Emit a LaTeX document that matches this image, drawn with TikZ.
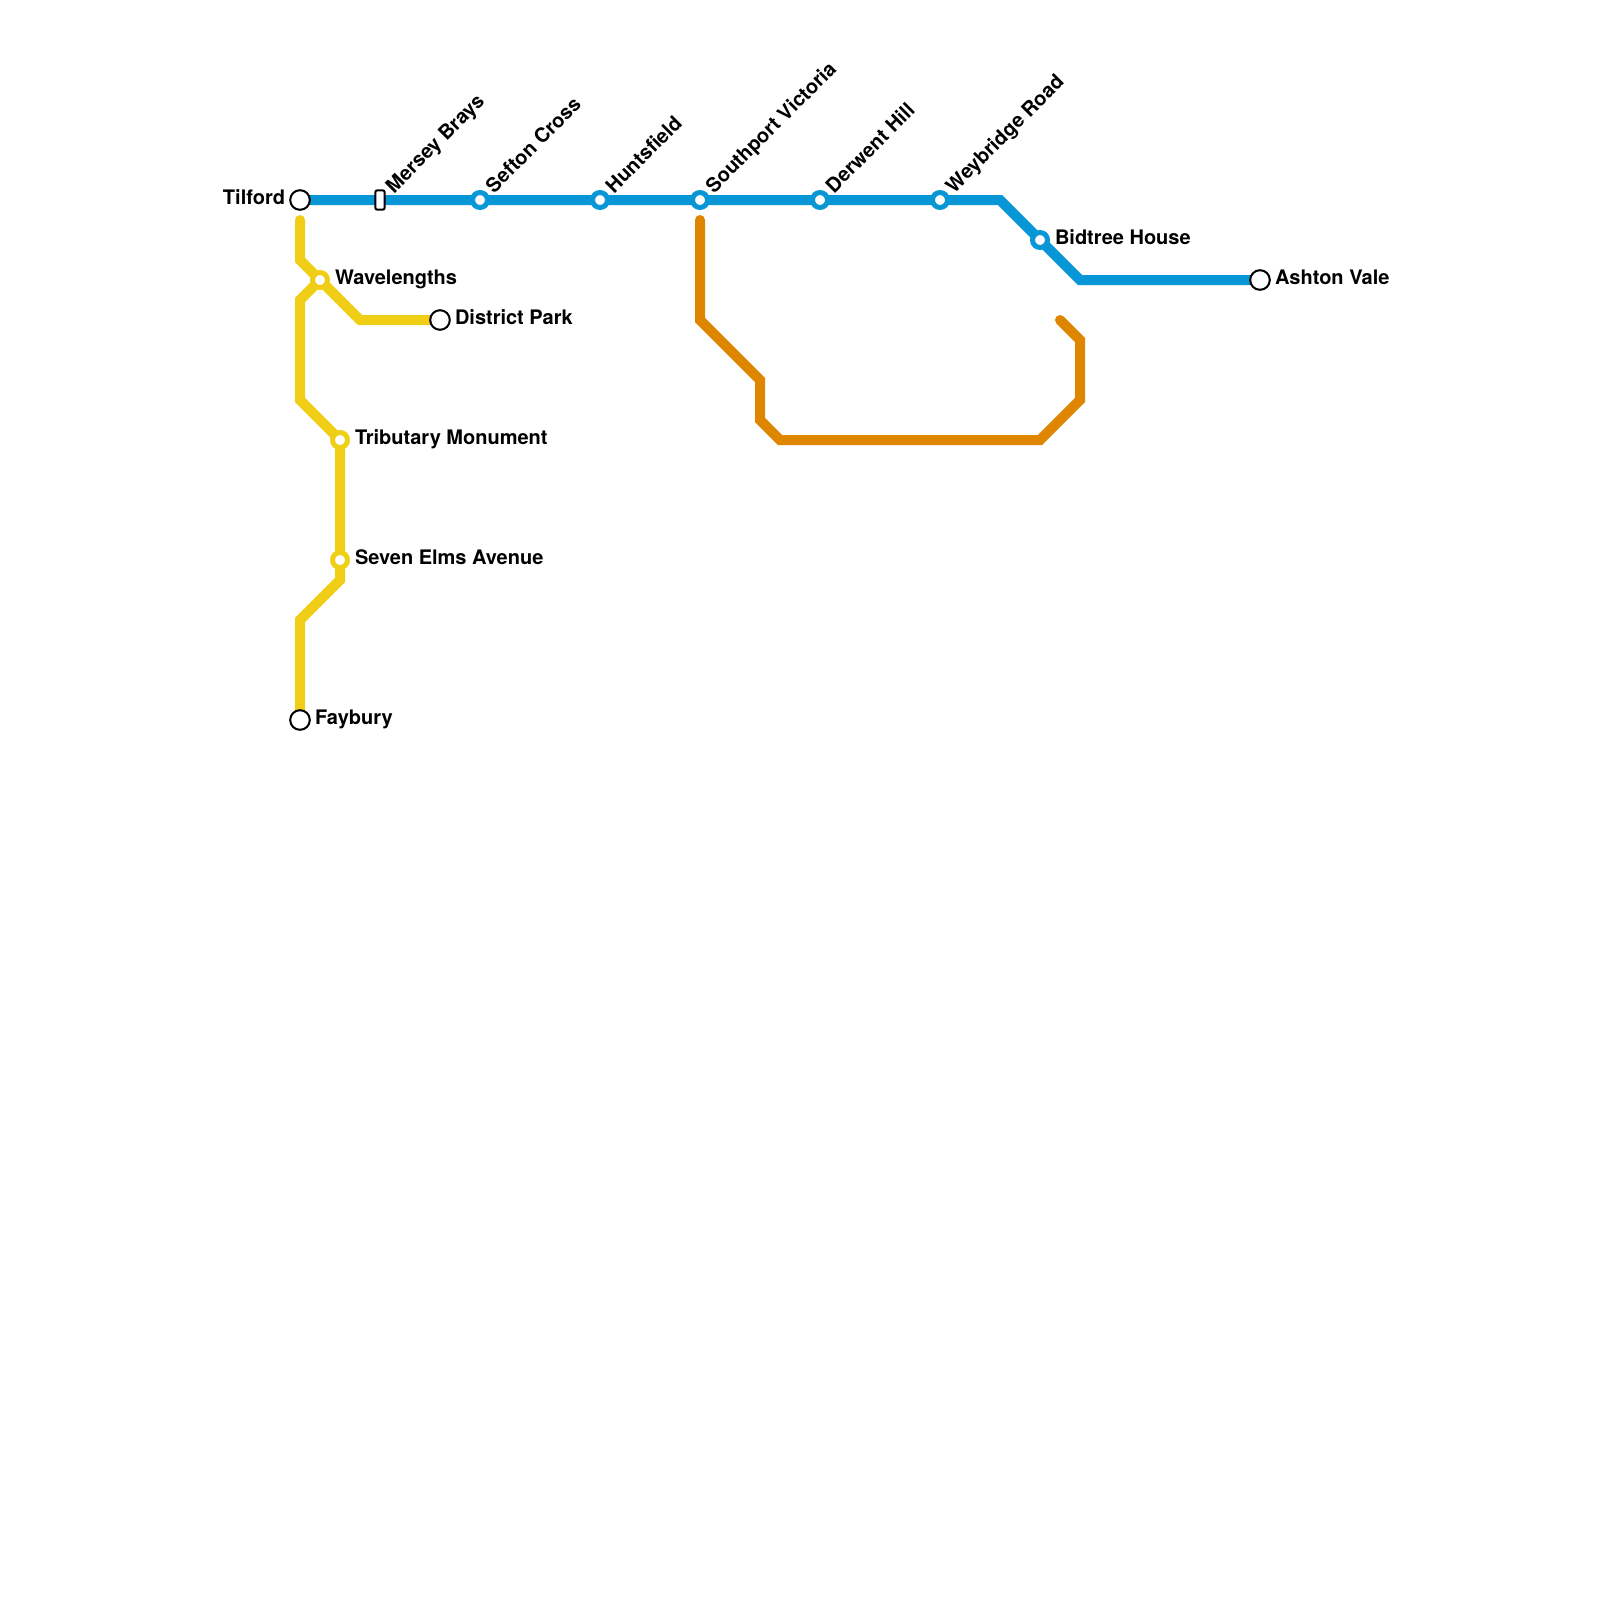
\documentclass[tikz,border=0pt]{standalone}
\usepackage{fontspec}
\setmainfont{TeX Gyre Heros}
\usetikzlibrary{backgrounds}
\definecolor{lblue}{HTML}{0896D7}
\definecolor{lyellow}{HTML}{F0CE15}
\definecolor{lorange}{HTML}{DF8600}
\tikzset{
 rail/.style={line width=5pt,line cap=round,line join=miter},
 inter/.style={circle,fill=white,draw=#1,line width=2.5pt,minimum size=7.5pt,inner sep=0pt,outer sep=0pt},
 term/.style={circle,fill=white,draw=black,line width=1pt,minimum size=9.8pt,inner sep=0pt,outer sep=0pt},
 halt/.style={rectangle,rounded corners=1pt,fill=white,draw=black,line width=1pt,minimum width=4.7pt,minimum height=9.7pt,inner sep=0pt,outer sep=0pt},
 lab/.style={font=\bfseries\fontsize{10pt}{12pt}\selectfont,inner sep=0pt,outer sep=0pt,text=black},
 labr/.style={lab,anchor=base west},
 labl/.style={lab,anchor=base east},
 labd/.style={lab,anchor=base west,rotate=45},
}
\begin{document}
\begin{tikzpicture}[x=0.5pt,y=-0.5pt]
\useasboundingbox (0,0) rectangle (1600,1600);
% stations
\node[term] (tilford) at (300,200) {};
\node[halt] (mersey) at (380,200) {};
\node[inter=lblue] (sefton) at (480,200) {};
\node[inter=lblue] (hunts) at (600,200) {};
\node[inter=lblue] (south) at (700,200) {};
\node[inter=lblue] (derwent) at (820,200) {};
\node[inter=lblue] (wey) at (940,200) {};
\node[inter=lblue] (bid) at (1040,240) {};
\node[term] (ashton) at (1260,280) {};
\node[inter=lyellow] (wave) at (320,280) {};
\node[term] (district) at (440,320) {};
\node[inter=lyellow] (trib) at (340,440) {};
\node[inter=lyellow] (seven) at (340,560) {};
\node[term] (fay) at (300,720) {};
% bends and free ends
\coordinate (b1) at (1000,200);
\coordinate (b2) at (1080,280);
\coordinate (y1) at (300,220);
\coordinate (y2) at (300,260);
\coordinate (y3) at (360,320);
\coordinate (y4) at (300,300);
\coordinate (y5) at (300,400);
\coordinate (y6) at (340,580);
\coordinate (y7) at (300,620);
\coordinate (o1) at (700,220);
\coordinate (o2) at (700,320);
\coordinate (o3) at (760,380);
\coordinate (o4) at (760,420);
\coordinate (o5) at (780,440);
\coordinate (o6) at (1040,440);
\coordinate (o7) at (1080,400);
\coordinate (o8) at (1080,340);
\coordinate (o9) at (1060,320);
\begin{pgfonlayer}{background}
\draw[rail,draw=lyellow] (y1) -- (y2) -- (wave.center) -- (y3) -- (district.center);
\draw[rail,draw=lyellow] (wave.center) -- (y4) -- (y5) -- (trib.center) -- (seven.center) -- (y6) -- (y7) -- (fay.center);
\draw[rail,draw=lorange] (o1) -- (o2) -- (o3) -- (o4) -- (o5) -- (o6) -- (o7) -- (o8) -- (o9);
\draw[rail,draw=lblue] (tilford.center) -- (b1) -- (bid.center) -- (b2) -- (ashton.center);
\end{pgfonlayer}
% labels
\node[labl] (ltil) at (285,204.5) {Tilford};
\node[labr] (lwave) at (335,284.5) {Wavelengths};
\node[labr] (ldist) at (455,324.5) {District Park};
\node[labr] (ltrib) at (355,444.5) {Tributary Monument};
\node[labr] (lseven) at (355,564.5) {Seven Elms Avenue};
\node[labr] (lfay) at (315,724.5) {Faybury};
\node[labr] (lbid) at (1055,244.5) {Bidtree House};
\node[labr] (lash) at (1275,284.5) {Ashton Vale};
\node[labd] (lmer) at (394,194) {Mersey Brays};
\node[labd] (lsef) at (494,194) {Sefton Cross};
\node[labd] (lhun) at (614,194) {Huntsfield};
\node[labd] (lsou) at (714,194) {Southport Victoria};
\node[labd] (lder) at (834,194) {Derwent Hill};
\node[labd] (lwey) at (954,194) {Weybridge Road};
\end{tikzpicture}
\end{document}
